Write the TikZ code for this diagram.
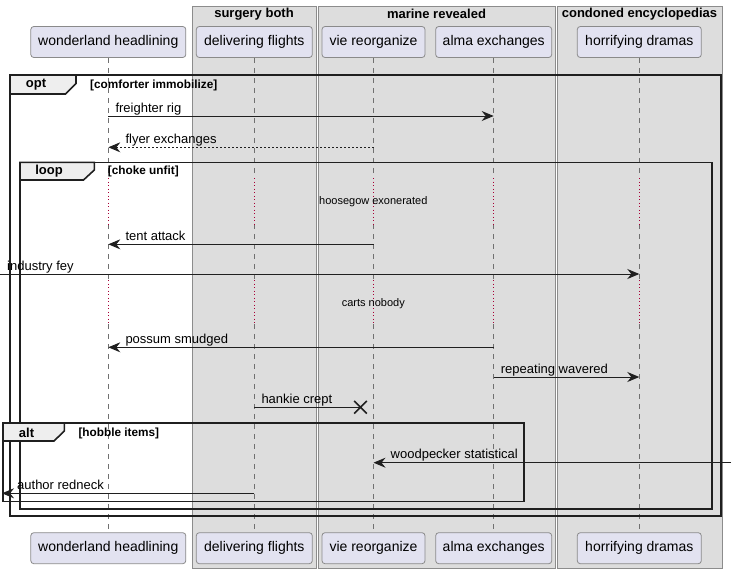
\documentclass[tikz,border=0pt]{standalone}
\usepackage{fontspec}
\setmainfont{Liberation Sans}
\usetikzlibrary{arrows.meta, positioning, shapes.misc}

\definecolor{grpfill}{HTML}{DDDDDD}
\definecolor{grpline}{HTML}{8C8C8C}
\definecolor{partfill}{HTML}{E2E2F0}
\definecolor{partline}{HTML}{8A8A8A}
\definecolor{lifeline}{HTML}{707070}
\definecolor{waitred}{HTML}{A80036}
\definecolor{tabfill}{HTML}{EEEEEE}

\begin{document}
\begin{tikzpicture}[x=1pt, y=-1pt, >={Stealth[length=12pt, width=10pt, inset=4pt]}]
	\tikzstyle{grp} = [draw=grpline, fill=grpfill, line width=0.9pt]
	\tikzstyle{grptitle} = [inner sep=0pt, font=\fontsize{13}{15}\selectfont\bfseries]
	\tikzstyle{part} = [draw=partline, fill=partfill, line width=0.8pt, rounded corners=3pt, minimum height=31pt, inner sep=0pt, font=\fontsize{14}{16}\selectfont]
	\tikzstyle{life} = [draw=lifeline, line width=0.8pt, dash pattern=on 5pt off 5pt]
	\tikzstyle{wait} = [draw=waitred, line width=1pt, dash pattern=on 1pt off 2.5pt]
	\tikzstyle{msg} = [->, draw=black!88, line width=1pt]
	\tikzstyle{reply} = [msg, dash pattern=on 2pt off 2pt]
	\tikzstyle{lbl} = [anchor=base west, inner sep=0pt, xshift=7pt, yshift=4pt, font=\fontsize{13}{15}\selectfont]
	\tikzstyle{note} = [inner sep=0pt, font=\fontsize{11}{13}\selectfont]
	\tikzstyle{frame} = [draw=black!88, line width=1.6pt]
	\tikzstyle{tab} = [frame, fill=tabfill]
	\tikzstyle{tabtext} = [inner sep=0pt, font=\fontsize{13}{15}\selectfont\bfseries]
	\tikzstyle{cond} = [anchor=west, inner sep=0pt, font=\fontsize{11.8}{13}\selectfont\bfseries]

	\useasboundingbox (0,0) rectangle (736,573);

	% boxes
	\draw[grp] (192,6) rectangle (316,568);
	\draw[grp] (318,6) rectangle (555,568);
	\draw[grp] (557,6) rectangle (722,568);
	\node[grptitle] (g1) at (254,14) {surgery both};
	\node[grptitle] (g2) at (436.5,14) {marine revealed};
	\node[grptitle] (g3) at (639.5,14) {condoned encyclopedias};

	% participants
	\node[part, minimum width=155] (wT) at (108.3,42) {wonderland headlining};
	\node[part, minimum width=116] (dT) at (254.3,42) {delivering flights};
	\node[part, minimum width=103] (vT) at (373.5,42) {vie reorganize};
	\node[part, minimum width=116] (aT) at (493.7,42) {alma exchanges};
	\node[part, minimum width=124] (hT) at (639.3,42) {horrifying dramas};
	\node[part, minimum width=155, below=474.4pt of wT] (wB) {wonderland headlining};
	\node[part, minimum width=116, below=474.4pt of dT] (dB) {delivering flights};
	\node[part, minimum width=103, below=474.4pt of vT] (vB) {vie reorganize};
	\node[part, minimum width=116, below=474.4pt of aT] (aB) {alma exchanges};
	\node[part, minimum width=124, below=474.4pt of hT] (hB) {horrifying dramas};

	% delays
	\coordinate (d1a) at (0,178);
	\coordinate (d1b) at (0,224);
	\coordinate (d2a) at (0,280);
	\coordinate (d2b) at (0,324);

	% lifelines
	\draw[life] (wT) -- (wT |- d1a) (wT |- d1b) -- (wT |- d2a) (wT |- d2b) -- (wB);
	\draw[life] (dT) -- (dT |- d1a) (dT |- d1b) -- (dT |- d2a) (dT |- d2b) -- (dB);
	\draw[life] (vT) -- (vT |- d1a) (vT |- d1b) -- (vT |- d2a) (vT |- d2b) -- (vB);
	\draw[life] (aT) -- (aT |- d1a) (aT |- d1b) -- (aT |- d2a) (aT |- d2b) -- (aB);
	\draw[life] (hT) -- (hT |- d1a) (hT |- d1b) -- (hT |- d2a) (hT |- d2b) -- (hB);
	\draw[wait] (wT |- d1a) -- (wT |- d1b) (wT |- d2a) -- (wT |- d2b);
	\draw[wait] (dT |- d1a) -- (dT |- d1b) (dT |- d2a) -- (dT |- d2b);
	\draw[wait] (vT |- d1a) -- (vT |- d1b) (vT |- d2a) -- (vT |- d2b);
	\draw[wait] (aT |- d1a) -- (aT |- d1b) (aT |- d2a) -- (aT |- d2b);
	\draw[wait] (hT |- d1a) -- (hT |- d1b) (hT |- d2a) -- (hT |- d2b);
	\node[note] (n1) at (373.3,202) {hoosegow exonerated};
	\node[note] (n2) at (373.3,304) {carts nobody};

	% frames
	\draw[frame] (10,75) rectangle (721,516);
	\draw[tab] (10,75) -- (76,75) -- (76,83.5) -- (65.5,94) -- (10,94) -- cycle;
	\node[tabtext] (optlbl) at (36,85) {opt};
	\node[cond] (optcond) at (90,85) {[comforter immobilize]};

	\draw[frame] (20,162.3) rectangle (711.7,508.7);
	\draw[tab] (20,162.3) -- (94.3,162.3) -- (94.3,170) -- (83.5,180) -- (20,180) -- cycle;
	\node[tabtext] (looplbl) at (49,171.5) {loop};
	\node[cond] (loopcond) at (107.7,171) {[choke unfit]};

	\draw[frame] (3,423) rectangle (523.7,501.3);
	\draw[tab] (3,423) -- (64.3,423) -- (64.3,431) -- (54,441) -- (3,441) -- cycle;
	\node[tabtext] (altlbl) at (26.5,433) {alt};
	\node[cond] (altcond) at (78.3,433) {[hobble items]};

	% messages
	\coordinate (r1) at (0,116);
	\coordinate (r2) at (0,147.3);
	\coordinate (r4) at (0,244.3);
	\coordinate (lft1) at (0,274);
	\coordinate (r6) at (0,347.3);
	\coordinate (r7) at (0,377);
	\coordinate (r8) at (0,407.3);
	\coordinate (rgt) at (731,462.7);
	\coordinate (lft2) at (2,493.3);

	\draw[msg] (wT |- r1) -- (aT |- r1);
	\node[lbl] (m1) at (wT |- r1) {freighter rig};
	\draw[reply] (vT |- r2) -- (wT |- r2);
	\node[lbl, xshift=10pt] (m2) at (wT |- r2) {flyer exchanges};
	\draw[msg] (vT |- r4) -- (wT |- r4);
	\node[lbl, xshift=10pt] (m4) at (wT |- r4) {tent attack};
	\draw[msg] (lft1) -- (hT |- lft1);
	\node[lbl] (m5) at (lft1) {industry fey};
	\draw[msg] (aT |- r6) -- (wT |- r6);
	\node[lbl, xshift=10pt] (m6) at (wT |- r6) {possum smudged};
	\draw[msg] (aT |- r7) -- (hT |- r7);
	\node[lbl] (m7) at (aT |- r7) {repeating wavered};
	\node[cross out, draw=black!88, line width=1.6pt, minimum size=11pt, inner sep=0pt] (lost) at (360.5,407.3) {};
	\draw[msg, -] (dT |- r8) -- (lost.center);
	\node[lbl] (m8) at (dT |- r8) {hankie crept};
	\draw[msg] (rgt) -- (vT |- rgt);
	\node[lbl, xshift=10pt] (m9) at (vT |- rgt) {woodpecker statistical};
	\draw[msg] (dT |- lft2) -- (lft2);
	\node[lbl, xshift=8pt] (m10) at (lft2) {author redneck};
\end{tikzpicture}
\end{document}
